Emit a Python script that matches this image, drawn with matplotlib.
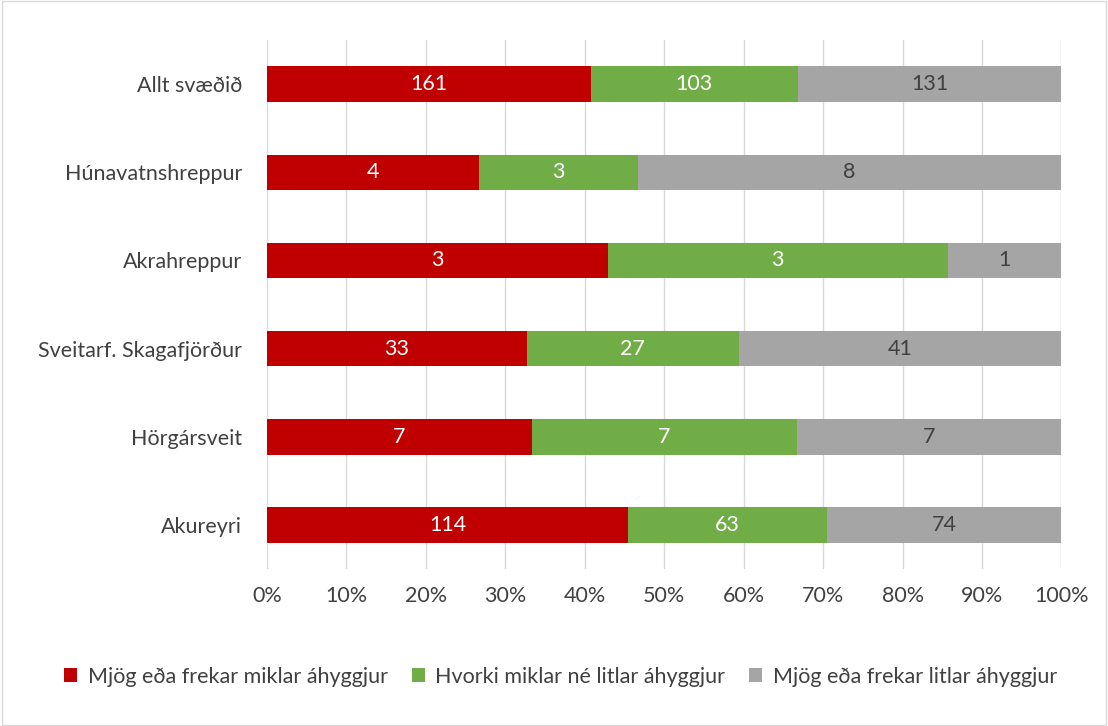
import matplotlib.pyplot as plt
import numpy as np
from matplotlib.patches import Rectangle

plt.rcParams['font.family'] = ['Lato', 'DejaVu Sans']

categories = ["Allt svæðið", "Húnavatnshreppur", "Akrahreppur",
              "Sveitarf. Skagafjörður", "Hörgársveit", "Akureyri"]
miklar = [161, 4, 3, 33, 7, 114]
hvorki = [103, 3, 3, 27, 7, 63]
litlar = [131, 8, 1, 41, 7, 74]
series_names = ["Mjög eða frekar miklar áhyggjur",
                "Hvorki miklar né litlar áhyggjur",
                "Mjög eða frekar litlar áhyggjur"]
colors = ["#C00000", "#70AD47", "#A5A5A5"]
text_colors = ["white", "white", "#404040"]
FS = 15.5

counts = np.array([miklar, hvorki, litlar], dtype=float)
shares = counts / counts.sum(axis=0)

fig = plt.figure(figsize=(11.08, 7.26), dpi=100)
ax = fig.add_axes([0.241, 0.216, 0.717, 0.729])

y = np.arange(len(categories))[::-1]
left = np.zeros(len(categories))
for i in range(3):
    bars = ax.barh(y, shares[i], left=left, height=0.4, color=colors[i],
                   label=series_names[i], zorder=3)
    for b, c in zip(bars, counts[i]):
        ax.text(b.get_x() + b.get_width() / 2, b.get_y() + b.get_height() / 2,
                f"{int(c)}", ha='center', va='center', color=text_colors[i],
                fontsize=FS, zorder=4)
    left += shares[i]

ax.set_xlim(0, 1)
ax.set_ylim(-0.5, len(categories) - 0.5)
ax.set_xticks(np.linspace(0, 1, 11))
ax.set_xticklabels([f"{int(v)}%" for v in range(0, 101, 10)])
ax.set_yticks(y)
ax.set_yticklabels(categories)
ax.tick_params(axis='both', length=0, labelsize=FS, labelcolor='#404040')
ax.tick_params(axis='x', pad=12)
ax.tick_params(axis='y', pad=18)
ax.grid(axis='x', color='#D9D9D9', linewidth=1, zorder=0)
for s in ax.spines.values():
    s.set_visible(False)

ax.legend(loc='center', bbox_to_anchor=(0.5 - 0.241 / 2 - 0.01, -0.203), ncol=3,
          frameon=False, fontsize=FS, handlelength=0.6, handleheight=0.6,
          columnspacing=1.1, handletextpad=0.5, labelcolor='#404040')

fig.patches.append(Rectangle((0.002, 0.002), 0.996, 0.996, transform=fig.transFigure,
                             fill=False, edgecolor='#D9D9D9', linewidth=1))

fig.savefig("out.png", dpi=100)
